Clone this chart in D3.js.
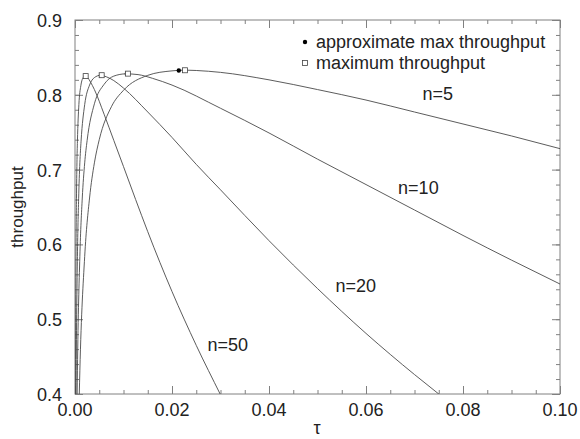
<!DOCTYPE html>
<html><head><meta charset="utf-8">
<script src="https://cdn.jsdelivr.net/npm/d3@7/dist/d3.min.js"></script>
<style>
body{margin:0;background:#fff;}
text{font-family:"Liberation Sans",Arial,Helvetica,sans-serif;fill:#222;}
</style></head>
<body>
<svg id="chart" width="580" height="439"></svg>
<script>
// ---- data ----
const seriesNames = ["n=5", "n=10", "n=20", "n=50"];
const tauN5  = [0.0005, 0.001, 0.002, 0.003, 0.004, 0.005, 0.0075, 0.01, 0.015, 0.02, 0.0227, 0.025, 0.03, 0.04, 0.05, 0.06, 0.07, 0.08, 0.09, 0.10];
const sN5    = [0.282, 0.431, 0.584, 0.662, 0.709, 0.740, 0.784, 0.806, 0.826, 0.832, 0.833, 0.8325, 0.830, 0.820, 0.807, 0.793, 0.777, 0.761, 0.745, 0.728];
const tauN10 = [0.00025, 0.0005, 0.001, 0.0015, 0.002, 0.0025, 0.004, 0.006, 0.008, 0.0105, 0.013, 0.016, 0.02, 0.03, 0.04, 0.05, 0.06, 0.07, 0.08, 0.09, 0.10];
const sN10   = [0.282, 0.431, 0.584, 0.662, 0.709, 0.739, 0.788, 0.814, 0.825, 0.828, 0.827, 0.822, 0.813, 0.782, 0.749, 0.714, 0.680, 0.646, 0.612, 0.579, 0.547];
const tauN20 = [0.000125, 0.00025, 0.0005, 0.00075, 0.001, 0.00125, 0.002, 0.003, 0.004, 0.0052, 0.0065, 0.008, 0.01, 0.015, 0.02, 0.025, 0.03, 0.04, 0.05, 0.06, 0.07, 0.075, 0.08];
const sN20   = [0.282, 0.431, 0.584, 0.661, 0.709, 0.738, 0.787, 0.813, 0.823, 0.826, 0.824, 0.819, 0.809, 0.777, 0.743, 0.707, 0.673, 0.605, 0.541, 0.481, 0.426, 0.400, 0.375];
const tauN50 = [0.00005, 0.0001, 0.0002, 0.0003, 0.0004, 0.0005, 0.0008, 0.0012, 0.0016, 0.0021, 0.0026, 0.0032, 0.004, 0.006, 0.008, 0.01, 0.0125, 0.015, 0.02, 0.025, 0.03, 0.032];
const sN50   = [0.282, 0.431, 0.584, 0.661, 0.709, 0.738, 0.787, 0.812, 0.822, 0.825, 0.823, 0.817, 0.807, 0.774, 0.739, 0.704, 0.660, 0.617, 0.537, 0.465, 0.399, 0.373];
const approxTau = [0.0214, 0.0107, 0.00536, 0.00214];
const approxS   = [0.8325, 0.8282, 0.8261, 0.8249];
const maxTau    = [0.0227, 0.0109, 0.0055, 0.0022];
const maxS      = [0.8328, 0.8283, 0.8262, 0.8250];
const labelTau  = [0.0748, 0.0708, 0.0579, 0.0315];
const labelS    = [0.8026, 0.6773, 0.5463, 0.4668];
const xTicks = [0.00, 0.02, 0.04, 0.06, 0.08, 0.10];
const yTicks = [0.4, 0.5, 0.6, 0.7, 0.8, 0.9];
const legendLabels = ["approximate max throughput", "maximum throughput"];

// ---- chart ----
const svg = d3.select("#chart");
const x = d3.scaleLinear().domain([0, 0.1]).range([75, 560]);
const y = d3.scaleLinear().domain([0.4, 0.9]).range([394, 20]);
const frame = "#808080";

svg.append("defs").append("clipPath").attr("id","clip")
  .append("rect").attr("x",75).attr("y",20).attr("width",485).attr("height",374);

// minor/major ticks via axes
const xMinor = d3.range(0, 0.1001, 0.005);
const yMinor = d3.range(0.4, 0.9001, 0.02);
function styleAxis(g){
  g.select(".domain").remove();
  g.selectAll("line").attr("stroke", frame).attr("stroke-width", 1);
}
svg.append("g").attr("transform","translate(0,394)")
  .call(d3.axisTop(x).tickValues(xMinor).tickSize(4).tickFormat(""))
  .call(styleAxis);
svg.append("g").attr("transform","translate(0,394)")
  .call(d3.axisTop(x).tickValues(xTicks).tickSize(8).tickFormat(""))
  .call(styleAxis);
svg.append("g").attr("transform","translate(0,20)")
  .call(d3.axisBottom(x).tickValues(xMinor).tickSize(4).tickFormat(""))
  .call(styleAxis);
svg.append("g").attr("transform","translate(0,20)")
  .call(d3.axisBottom(x).tickValues(xTicks).tickSize(8).tickFormat(""))
  .call(styleAxis);
svg.append("g").attr("transform","translate(75,0)")
  .call(d3.axisRight(y).tickValues(yMinor).tickSize(4).tickFormat(""))
  .call(styleAxis);
svg.append("g").attr("transform","translate(75,0)")
  .call(d3.axisRight(y).tickValues(yTicks).tickSize(8).tickFormat(""))
  .call(styleAxis);
svg.append("g").attr("transform","translate(560,0)")
  .call(d3.axisLeft(y).tickValues(yMinor).tickSize(4).tickFormat(""))
  .call(styleAxis);
svg.append("g").attr("transform","translate(560,0)")
  .call(d3.axisLeft(y).tickValues(yTicks).tickSize(8).tickFormat(""))
  .call(styleAxis);

// frame
svg.append("rect").attr("x",75).attr("y",20).attr("width",485).attr("height",374)
  .attr("fill","none").attr("stroke",frame).attr("stroke-width",1);

// tick labels
svg.append("g").selectAll("text").data(xTicks).join("text")
  .attr("x", d => x(d)).attr("y", 416).attr("text-anchor","middle")
  .attr("font-size", 18).text(d => d.toFixed(2));
svg.append("g").selectAll("text").data(yTicks).join("text")
  .attr("x", 62).attr("y", d => y(d) + 7).attr("text-anchor","end")
  .attr("font-size", 18).text(d => d.toFixed(1));

// axis titles
svg.append("text").attr("x", 317).attr("y", 434).attr("text-anchor","middle")
  .attr("font-size", 18).text("τ");
svg.append("text").attr("transform","translate(23,207) rotate(-90)")
  .attr("text-anchor","middle").attr("font-size", 17).text("throughput");

// curves
const series = [[tauN5,sN5],[tauN10,sN10],[tauN20,sN20],[tauN50,sN50]];
const line = d3.line().x(d => x(d[0])).y(d => y(d[1])).curve(d3.curveMonotoneX);
svg.append("g").attr("clip-path","url(#clip)").selectAll("path").data(series).join("path")
  .attr("d", s => line(s[0].map((t,i) => [t, s[1][i]])))
  .attr("fill","none").attr("stroke","#4a4a4a").attr("stroke-width",0.9);

// markers
svg.append("g").selectAll("circle").data(approxTau).join("circle")
  .attr("cx", d => x(d)).attr("cy", (d,i) => y(approxS[i])).attr("r", 2.2).attr("fill","#000");
svg.append("g").selectAll("rect").data(maxTau).join("rect")
  .attr("x", d => x(d) - 2.5).attr("y", (d,i) => y(maxS[i]) - 2.5)
  .attr("width", 5).attr("height", 5).attr("fill","#fff").attr("stroke","#444").attr("stroke-width",0.8);

// series labels
svg.append("g").selectAll("text").data(seriesNames).join("text")
  .attr("x", (d,i) => x(labelTau[i])).attr("y", (d,i) => y(labelS[i]) + 7)
  .attr("text-anchor","middle").attr("font-size", 18).text(d => d);

// legend
svg.append("circle").attr("cx", 305).attr("cy", 42).attr("r", 2.2).attr("fill","#000");
svg.append("rect").attr("x", 302.5).attr("y", 60.5).attr("width", 5).attr("height", 5)
  .attr("fill","#fff").attr("stroke","#444").attr("stroke-width",0.8);
svg.append("g").selectAll("text").data(legendLabels).join("text")
  .attr("x", 316).attr("y", (d,i) => 48 + i * 21).attr("font-size", 18).text(d => d);
</script>
</body></html>
